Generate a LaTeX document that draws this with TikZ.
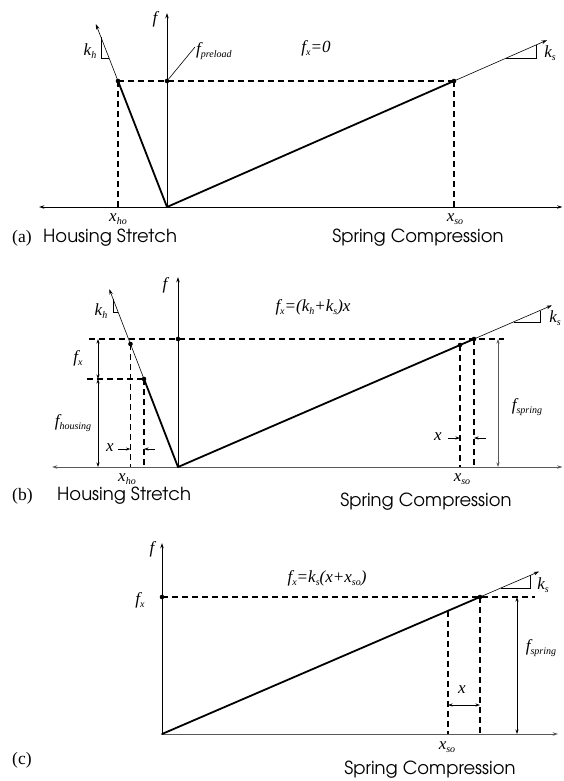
\documentclass[tikz,border=0pt]{standalone}
\usepackage{fontspec}
\setmainfont{Liberation Serif}
\newfontfamily\advfont{TeX Gyre Adventor}
\usetikzlibrary{arrows.meta,calc}
\newcommand\sbs[1]{\raisebox{-0.45ex}{\fontsize{10}{10}\selectfont\itshape #1}}
\begin{document}
\begin{tikzpicture}[x=1pt,y=-1pt,
  tipa/.tip={Stealth[length=5.5pt,width=3.6pt]},
  tipd/.tip={Stealth[length=4.5pt,width=3pt]},
  axisline/.style={line width=0.8pt},
  grayline/.style={line width=0.8pt,draw=black!65},
  thickline/.style={line width=1.8pt,line cap=round,line join=round},
  thinline/.style={line width=0.6pt},
  arr/.style={-tipa},
  dimarr/.style={tipd-tipd},
  onearr/.style={-tipd},
  dashln/.style={line width=1.4pt,dash pattern=on 6pt off 4pt},
  dot/.style={circle,fill,inner sep=0pt,minimum size=4.6pt},
  lab/.style={inner sep=0pt,font=\fontsize{17}{17}\selectfont\itshape},
  captext/.style={inner sep=0pt,font=\advfont\fontsize{18}{18}\selectfont},
  tagtext/.style={inner sep=0pt,font=\fontsize{17.5}{17.5}\selectfont}]
\useasboundingbox (0,0) rectangle (563,781);

% ================= Panel (a) =================
\coordinate (Oa) at (167,207);
\coordinate (aL) at (39,207);
\coordinate (aR) at (562.5,207);
\coordinate (aT) at (167,13);
\coordinate (Ha) at (118,81);
\coordinate (Sa) at (454,81);
\coordinate (Pa) at (167,81);
\coordinate (HaT) at ($(Oa)!1.452!(Ha)$);
\coordinate (SaT) at ($(Oa)!1.324!(Sa)$);
\coordinate (Hax) at (118,207);
\coordinate (Sax) at (454,207);
\draw[axisline,tipa-tipa] (aL) -- (aR);
\draw[axisline,arr] (Oa) -- (aT);
\draw[dashln] (Ha) -- (Sa);
\draw[dashln] (Ha) -- (Hax);
\draw[dashln] (Sa) -- (Sax);
\draw[thickline] (Ha) -- (Oa) -- (Sa);
\draw[thinline,arr] (Ha) -- (HaT);
\draw[thinline,arr] (Sa) -- (SaT);
\node[dot] (dHa) at (Ha) {};
\node[dot] (dSa) at (Sa) {};
\node[dot] (dPa) at (Pa) {};
\draw[thinline] (101,37.3) -- (101,58) -- (109,58);
\draw[thinline] (506,58) -- (536,58) -- (536,45);
\node[lab] (fa) at (155,19) {f};
\node[lab] (kha) at (90,51) {k\sbs{h}};
\node[lab,anchor=west] (fpre) at (196,51) {f\sbs{preload}};
\coordinate (preB) at (195,47);
\draw[thinline] (dPa) -- (preB);
\node[lab] (fxa) at (316,48) {f\sbs{x}=0};
\node[lab] (ksa) at (550,53) {k\sbs{s}};
\node[lab] (xhoa) at (118,219) {x\sbs{ho}};
\node[lab] (xsoa) at (455,219) {x\sbs{so}};
\node[tagtext,anchor=west] (taga) at (12,238) {(a)};
\node[captext,anchor=west] (hsa) at (43,238) {Housing Stretch};
\node[captext] (sca) at (418,238) {Spring Compression};

% ================= Panel (b) =================
\coordinate (Ob) at (178,467);
\coordinate (bL) at (52,467);
\coordinate (bR) at (562.5,467);
\coordinate (bT) at (178,277);
\coordinate (Hb) at (144,379);
\coordinate (H2b) at ($(Ob)!1.398!(Hb)$);
\coordinate (HbT) at ($(Ob)!2.02!(Hb)$);
\coordinate (Sb) at (460,345);
\coordinate (S2b) at (474,339);
\coordinate (SbT) at ($(Ob)!1.263!(S2b)$);
\coordinate (Pb) at (178,339);
\coordinate (topL) at (89,339);
\coordinate (topR) at (504,339);
\coordinate (lowL) at (87,379);
\coordinate (H2bx) at ($(H2b|-Ob)$);
\coordinate (Hbx) at (144,467);
\coordinate (Sbx) at (460,467);
\coordinate (S2bx) at (474,467);
\draw[grayline,tipa-tipa] (bL) -- (bR);
\draw[axisline,arr] (Ob) -- (bT);
\draw[dashln] (topL) -- (topR);
\draw[dashln] (lowL) -- (Hb);
\draw[dashln] (H2b) -- (H2bx);
\draw[dashln] (Hb) -- (Hbx);
\draw[dashln] (Sb) -- (Sbx);
\draw[dashln] (S2b) -- (S2bx);
\draw[thickline] (Hb) -- (Ob) -- (S2b);
\draw[thinline,arr] (Hb) -- (HbT);
\draw[thinline,arr] (S2b) -- (SbT);
\node[dot] (dHb) at (Hb) {};
\node[dot] (dH2b) at (H2b) {};
\node[dot] (dPb) at (Pb) {};
\node[dot] (dSb) at (Sb) {};
\node[dot] (dS2b) at (S2b) {};
\draw[thinline] (113,299) -- (113,312) -- (118,312);
\draw[thinline] (513.6,322) -- (540,322) -- (540,310.6);
% dimension arrows
\coordinate (fxT) at (98,339);
\coordinate (fxB) at (98,379);
\coordinate (fhB) at (98,467);
\draw[axisline,dimarr] (fxT) -- (fxB);
\draw[axisline,dimarr] (fxB) -- (fhB);
\coordinate (fsT) at (498,339);
\coordinate (fsB) at (498,467);
\draw[grayline,dimarr] (fsT) -- (fsB);
\coordinate (xl1) at (118,449);
\coordinate (xl2) at ($(H2b|-xl1)$);
\coordinate (xr1) at (155,449);
\coordinate (xr2) at (144,449);
\draw[thinline,onearr] (xl1) -- (xl2);
\draw[thinline,onearr] (xr1) -- (xr2);
\coordinate (xs1) at (448,438);
\coordinate (xs2) at (460,438);
\coordinate (xs3) at (486,438);
\coordinate (xs4) at (474,438);
\draw[thinline,onearr] (xs1) -- (xs2);
\draw[thinline,onearr] (xs3) -- (xs4);
\node[lab] (fb) at (165,285) {f};
\node[lab] (khb) at (101,311) {k\sbs{h}};
\node[lab] (fxlb) at (78,358) {f\sbs{x}};
\node[lab] (fhlb) at (73,423) {f\sbs{housing}};
\node[lab] (xlb) at (110,448) {x};
\node[lab] (xrb) at (438,437) {x};
\node[lab] (fslb) at (527,407) {f\sbs{spring}};
\node[lab] (formb) at (313,307) {f\sbs{x}=(k\sbs{h}+k\sbs{s})x};
\node[lab] (ksb) at (555,318) {k\sbs{s}};
\node[lab] (xhob) at (127,479) {x\sbs{ho}};
\node[lab] (xsob) at (462,479) {x\sbs{so}};
\node[tagtext,anchor=west] (tagb) at (12,496) {(b)};
\node[captext,anchor=west] (hsb) at (57,496) {Housing Stretch};
\node[captext] (scb) at (426,502) {Spring Compression};

% ================= Panel (c) =================
\coordinate (Oc) at (162,734);
\coordinate (cR) at (558,734);
\coordinate (cT) at (162,543);
\coordinate (Fc) at (162,597);
\coordinate (Sc) at (480,597);
\coordinate (ScT) at ($(Oc)!1.186!(Sc)$);
\coordinate (dashR) at (535,597);
\coordinate (Mc) at ($(Oc)!0.8994!(Sc)$);
\coordinate (Mcx) at ($(Mc|-Oc)$);
\coordinate (Scx) at (480,734);
\draw[grayline,arr] (Oc) -- (cR);
\draw[axisline,arr] (Oc) -- (cT);
\draw[dashln] (Fc) -- (dashR);
\draw[dashln] (Mc) -- (Mcx);
\draw[dashln] (Sc) -- (Scx);
\draw[thickline] (Oc) -- (Sc);
\draw[thinline,arr] (Sc) -- (ScT);
\node[dot] (dFc) at (Fc) {};
\node[dot] (dSc) at (Sc) {};
\draw[thinline] (500.7,588) -- (530,588) -- (530,575.4);
\coordinate (xc1) at ($(Mc|-0,705)$);
\coordinate (xc2) at (480,705);
\draw[axisline,dimarr] (xc1) -- (xc2);
\coordinate (fscT) at (517,597);
\coordinate (fscB) at (517,734);
\draw[axisline,dimarr] (fscT) -- (fscB);
\node[lab] (fc) at (152,549) {f};
\node[lab] (fxlc) at (140,600) {f\sbs{x}};
\node[lab] (formc) at (327,578) {f\sbs{x}=k\sbs{s}(x+x\sbs{so})};
\node[lab] (ksc) at (543,585) {k\sbs{s}};
\node[lab] (xlc) at (462,690) {x};
\node[lab] (fslc) at (541,648) {f\sbs{spring}};
\node[lab] (xsoc) at (447,747) {x\sbs{so}};
\node[tagtext,anchor=west] (tagc) at (12,760) {(c)};
\node[captext] (scc) at (430,770) {Spring Compression};
\end{tikzpicture}
\end{document}
